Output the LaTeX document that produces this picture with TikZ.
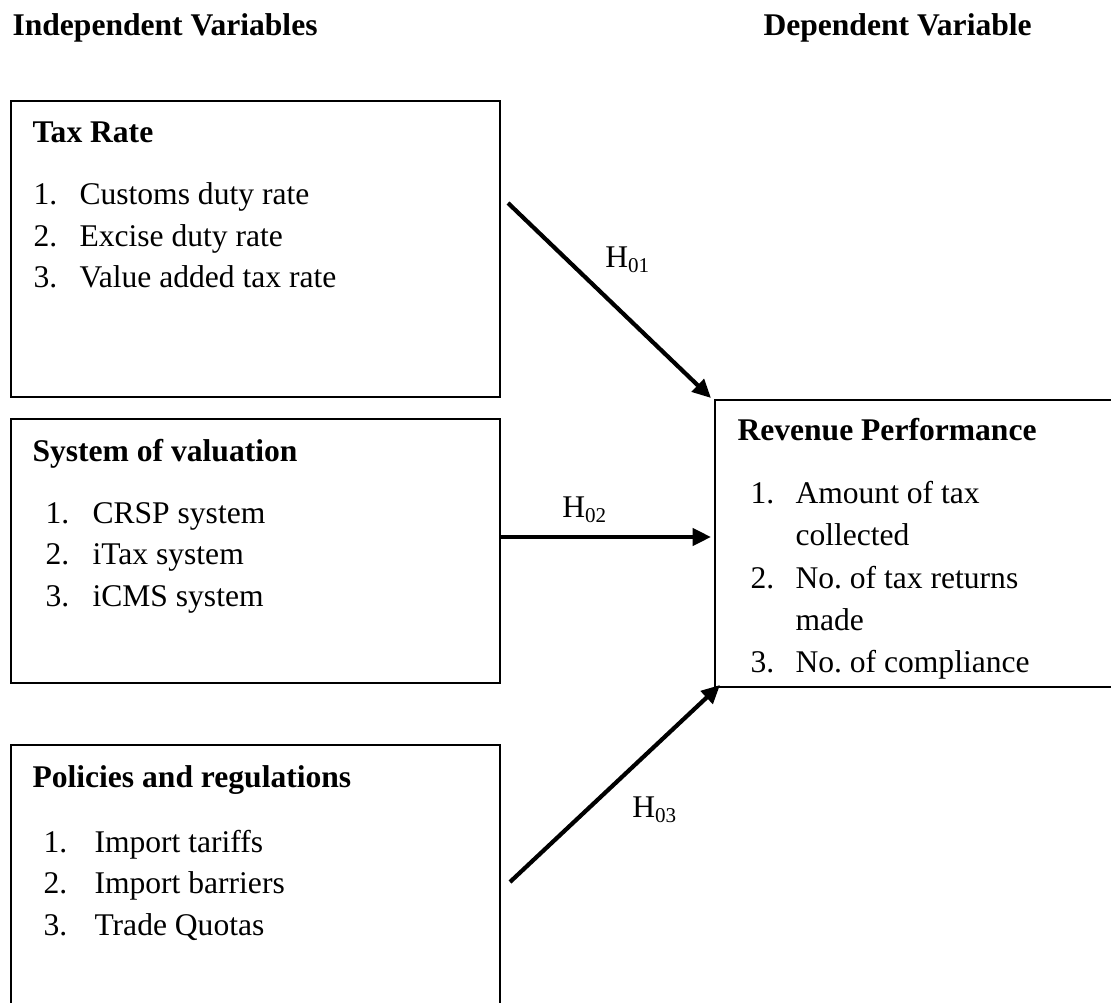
\documentclass[tikz,border=0pt]{standalone}
\usepackage{fontspec}
\setmainfont{Liberation Serif}
\usetikzlibrary{arrows.meta}
\frenchspacing
\begin{document}
\begin{tikzpicture}[x=0.38pt,y=-0.38pt,
  box/.style={draw=black,line width=0.55pt},
  txt/.style={anchor=base west,inner sep=0pt,font=\fontsize{12}{14}\selectfont},
  head/.style={anchor=base west,inner sep=0pt,font=\fontsize{12}{14}\selectfont\bfseries},
  conn/.style={line width=1.6pt,-{Triangle[length=7pt,width=6.5pt]}},
  hlab/.style={anchor=center,inner sep=0pt,font=\fontsize{12}{14}\selectfont}]
\useasboundingbox (0,0) rectangle (1111,1003);
\clip (0,0) rectangle (1111,1003);
% column headings
\node[head] (hind) at (12,36) {Independent Variables};
\node[head] (hdep) at (763,36) {Dependent Variable};
% boxes
\draw[box] (11,101) rectangle (500,397);
\draw[box] (11,419) rectangle (500,683);
\draw[box] (11,745) rectangle (500,1040);
\draw[box] (715,400) rectangle (1150,687);
% box 1
\node[head] (b1h) at (32,143) {Tax Rate};
\node[txt] (b1n1) at (33,205) {1.};
\node[txt] (b1t1) at (79,205) {Customs duty rate};
\node[txt] (b1n2) at (33,246.5) {2.};
\node[txt] (b1t2) at (79,246.5) {Excise duty rate};
\node[txt] (b1n3) at (33,288) {3.};
\node[txt] (b1t3) at (79,288) {Value added tax rate};
% box 2
\node[head] (b2h) at (32,461) {System of valuation};
\node[txt] (b2n1) at (45,523) {1.};
\node[txt] (b2t1) at (92,523) {CRSP system};
\node[txt] (b2n2) at (45,564.5) {2.};
\node[txt] (b2t2) at (92,564.5) {iTax system};
\node[txt] (b2n3) at (45,606) {3.};
\node[txt] (b2t3) at (92,606) {iCMS system};
% box 3
\node[head] (b3h) at (32,787) {Policies and regulations};
\node[txt] (b3n1) at (43,852) {1.};
\node[txt] (b3t1) at (94,852) {Import tariffs};
\node[txt] (b3n2) at (43,893.5) {2.};
\node[txt] (b3t2) at (94,893.5) {Import barriers};
\node[txt] (b3n3) at (43,935) {3.};
\node[txt] (b3t3) at (94,935) {Trade Quotas};
% revenue box
\node[head] (rh) at (737,440) {Revenue Performance};
\node[txt] (rn1) at (750,503) {1.};
\node[txt] (rt1) at (795,503) {Amount of tax};
\node[txt] (rt1b) at (795,545) {collected};
\node[txt] (rn2) at (750,588) {2.};
\node[txt] (rt2) at (795,588) {No. of tax returns};
\node[txt] (rt2b) at (795,630) {made};
\node[txt] (rn3) at (750,672) {3.};
\node[txt] (rt3) at (795,672) {No. of compliance};
% connectors
\coordinate (a1s) at (508,203);
\coordinate (a1e) at (711,398);
\coordinate (a2s) at (499,537);
\coordinate (a2e) at (711,537);
\coordinate (a3s) at (510,882);
\coordinate (a3e) at (720,685);
\draw[conn] (a1s) -- (a1e);
\draw[conn] (a2s) -- (a2e);
\draw[conn] (a3s) -- (a3e);
\node[hlab] (l1) at (628,260) {H\textsubscript{01}};
\node[hlab] (l2) at (585,510) {H\textsubscript{02}};
\node[hlab] (l3) at (655,810) {H\textsubscript{03}};
\end{tikzpicture}
\end{document}
